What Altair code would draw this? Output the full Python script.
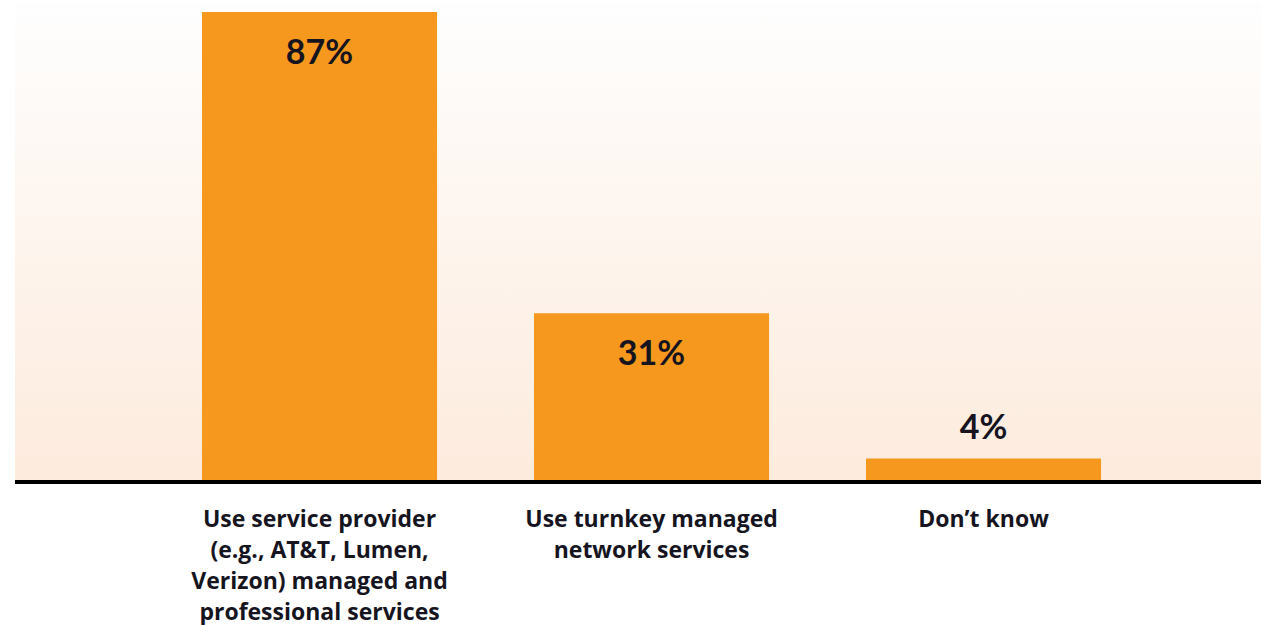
import altair as alt
import pandas as pd

categories = [
    "Use service provider (e.g., AT&T, Lumen, Verizon) managed and professional services",
    "Use turnkey managed network services",
    "Don\u2019t know",
]
label_lines = [
    "Use service provider\n(e.g., AT&T, Lumen,\nVerizon) managed and\nprofessional services",
    "Use turnkey managed\nnetwork services",
    "Don\u2019t know",
]
values = [87, 31, 4]
value_labels = ["87%", "31%", "4%"]

df = pd.DataFrame({
    "cat": categories,
    "label": label_lines,
    "value": values,
    "vlabel": value_labels,
})

W, H = 1246, 477
FONT = "Lato"
LABEL_FONT = "Open Sans"
TEXT = "#16151f"
ORANGE = "#F7981E"

xscale = alt.Scale(domain=categories, paddingInner=0.292, paddingOuter=0.5225, align=0.539)
yscale = alt.Scale(domain=[0, 88.68])

bg = alt.Chart(df).mark_rect(
    color=alt.LinearGradient(
        gradient="linear",
        stops=[alt.GradientStop(color="#fefefe", offset=0), alt.GradientStop(color="#fdebdd", offset=1)],
        x1=0, x2=0, y1=0, y2=1,
    )
).encode(x=alt.value(0), x2=alt.value(W), y=alt.value(0), y2=alt.value(H))

base = alt.Chart(df).encode(
    x=alt.X("cat:N", scale=xscale, axis=None, sort=categories),
)

bars = base.mark_bar(color=ORANGE).encode(
    y=alt.Y("value:Q", scale=yscale, axis=None),
)

rule = alt.Chart(df).mark_rule(color="#000000", strokeWidth=4).encode(
    y=alt.value(H + 2), x=alt.value(0), x2=alt.value(W)
)

inside = base.transform_filter("datum.value >= 10").mark_text(
    font=FONT, fontWeight="bold", fontSize=34, color=TEXT, baseline="alphabetic", dy=52
).encode(y=alt.Y("value:Q", scale=yscale, axis=None), text="vlabel:N")

above = base.transform_filter("datum.value < 10").mark_text(
    font=FONT, fontWeight="bold", fontSize=34, color=TEXT, baseline="alphabetic", dy=-19
).encode(y=alt.Y("value:Q", scale=yscale, axis=None), text="vlabel:N")

cat_labels = base.mark_text(
    font=LABEL_FONT, fontWeight="bold", fontSize=23, color=TEXT, baseline="alphabetic",
    lineBreak="\n", lineHeight=31, align="center",
).encode(y=alt.value(524), text="label:N")

chart = alt.layer(bg, bars, rule, inside, above, cat_labels).properties(
    width=W, height=H,
    padding={"left": 15, "top": 3, "right": 0, "bottom": 145},
    autosize=alt.AutoSizeParams(type="none"),
    background="#ffffff",
).configure_view(stroke=None)

chart.save("out.html", embed_options={"renderer": "svg", "actions": False})
